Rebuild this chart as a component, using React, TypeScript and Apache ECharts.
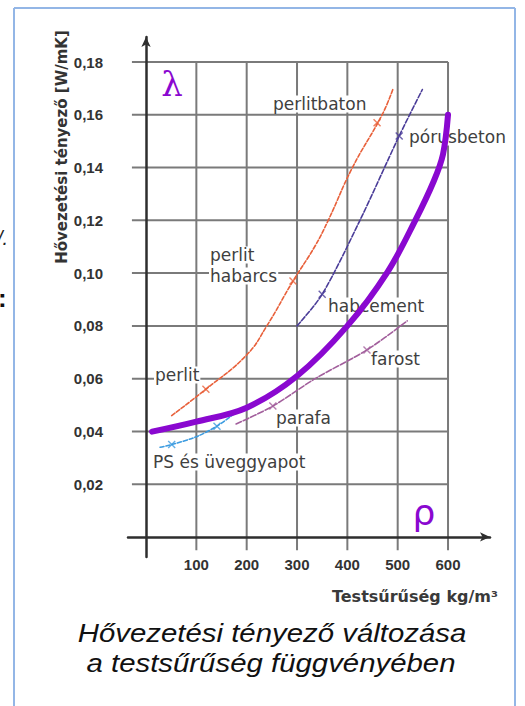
import { useEffect, useRef } from 'react';
import * as echarts from 'echarts';

// Tick values
const X_TICKS = [100, 200, 300, 400, 500, 600];
const Y_TICKS = [0.02, 0.04, 0.06, 0.08, 0.1, 0.12, 0.14, 0.16, 0.18];

// Curves: [density kg/m3, lambda W/mK]
const mainCurve = [
  [12, 0.0399], [100, 0.0437], [200, 0.049], [300, 0.061],
  [400, 0.08], [480, 0.1005], [535, 0.12], [572, 0.135], [590, 0.145], [600, 0.16],
];
const perlitCurve = [
  [51, 0.046], [119, 0.056], [200, 0.069], [240, 0.08], [292, 0.097],
  [335, 0.11], [362, 0.12], [410, 0.14], [469, 0.16], [491, 0.170],
];
const porusCurve = [
  [300, 0.08], [350, 0.092], [425, 0.12], [503, 0.152], [549, 0.1696],
];
const farostCurve = [
  [179, 0.0428], [252, 0.0496], [336, 0.06], [439, 0.0709], [519, 0.0819],
];
const psCurve = [
  [28, 0.034], [51, 0.035], [100, 0.038], [141, 0.042], [173, 0.0464],
];

// Tick-mark crosses on curves
const perlitMarks = [[119, 0.056], [292, 0.097], [459, 0.157]];
const porusMarks = [[350, 0.092], [503, 0.152]];
const farostMarks = [[252, 0.0496], [439, 0.0709]];
const psMarks = [[51, 0.035], [141, 0.042]];

// Axis extents
const X_MIN = -35.8;
const X_MAX = 683.4;
const Y_MIN = -0.0076;
const Y_MAX = 0.1895;
const GRID_X_LEFT = -28;
const GRID_Y_BOTTOM = -0.005;

const C_MAIN = '#8a08d0';
const C_PERLIT = '#e8603a';
const C_PORUS = '#4a3c98';
const C_FAROST = '#a25f9c';
const C_PS = '#3b9be0';
const C_GRID = '#7a7a7a';
const C_FRAME = '#93b6e6';

const CROSS = 'path://M0,0L10,10M10,0L0,10';

function markSeries(data: number[][], color: string) {
  return {
    type: 'scatter',
    data,
    symbol: CROSS,
    symbolSize: 7,
    z: 8,
    silent: true,
    itemStyle: { color: 'none', borderColor: color, borderWidth: 1.4 },
  };
}

function curveSeries(data: number[][], color: string, width: number, dash: any, smooth = 0.3) {
  return {
    type: 'line',
    data,
    smooth,
    symbol: 'none',
    silent: true,
    z: 7,
    lineStyle: { color, width, type: dash, cap: 'round', join: 'round' },
  };
}

const segLine = (x1: number, y1: number, x2: number, y2: number, color: string, z: number) => ({
  type: 'line',
  z,
  silent: true,
  shape: { x1, y1, x2, y2 },
  style: { stroke: color, lineWidth: 2 },
});

export default function App() {
  const ref = useRef<HTMLDivElement>(null);
  useEffect(() => {
    if (!ref.current) return;
    const chart = echarts.init(ref.current, null, { renderer: 'svg' });

    const labels: [string, number, number][] = [
      ['perlitbaton', 272, 104],
      ['pórusbeton', 408, 137],
      ['perlit', 209, 255],
      ['habarcs', 209, 276],
      ['habcement', 327, 306],
      ['farost', 370, 359],
      ['perlit', 154, 375],
      ['parafa', 275, 418],
      ['PS és üveggyapot', 152, 462],
    ];

    chart.setOption({
      animation: false,
      grid: { left: 128, top: 37, width: 362, height: 520, containLabel: false },
      xAxis: {
        type: 'value',
        min: X_MIN,
        max: X_MAX,
        z: 6,
        axisLine: {
          onZero: true,
          lineStyle: { color: '#2e2e2e', width: 2.5 },
          symbol: ['none', 'arrow'],
          symbolSize: [7, 10],
        },
        axisTick: { show: false },
        splitLine: { show: false },
        axisLabel: {
          customValues: X_TICKS,
          margin: 0,
          color: '#333',
          fontSize: 15,
          fontWeight: 'bold',
          fontFamily: 'Liberation Sans',
          formatter: (v: number) => String(Math.round(v)),
        },
      },
      yAxis: {
        type: 'value',
        min: Y_MIN,
        max: Y_MAX,
        z: 6,
        axisLine: {
          onZero: true,
          lineStyle: { color: '#2e2e2e', width: 2.5 },
          symbol: ['none', 'arrow'],
          symbolSize: [7, 10],
        },
        axisTick: { show: false },
        splitLine: { show: false },
        axisLabel: {
          customValues: Y_TICKS,
          margin: 25,
          color: '#333',
          fontSize: 15,
          fontWeight: 'bold',
          fontFamily: 'Liberation Sans',
          formatter: (v: number) => v.toFixed(2).replace('.', ','),
        },
      },
      series: [
        curveSeries(psCurve, C_PS, 1.6, [4, 2]),
        curveSeries(farostCurve, C_FAROST, 1.6, [6, 2]),
        curveSeries(perlitCurve, C_PERLIT, 1.6, [4, 2], 0.45),
        curveSeries(porusCurve, C_PORUS, 1.6, [5, 2]),
        curveSeries(mainCurve, C_MAIN, 6, 'solid', 0.35),
        markSeries(perlitMarks, C_PERLIT),
        markSeries(porusMarks, C_PORUS),
        markSeries(farostMarks, C_FAROST),
        markSeries(psMarks, C_PS),
      ],
    });

    // Grid lines, placed through the chart's own scales
    const toPx = (p: number[]) => chart.convertToPixel({ gridIndex: 0 }, p) as number[];
    const yTop = Y_TICKS[Y_TICKS.length - 1];
    const xRight = X_TICKS[X_TICKS.length - 1];
    const gridEls: any[] = [];
    X_TICKS.forEach((v) => {
      const a = toPx([v, GRID_Y_BOTTOM]);
      const b = toPx([v, yTop]);
      if (a && b) gridEls.push(segLine(a[0], a[1], b[0], b[1], C_GRID, 1));
    });
    Y_TICKS.forEach((v) => {
      const a = toPx([GRID_X_LEFT, v]);
      const b = toPx([xRight, v]);
      if (a && b) gridEls.push(segLine(a[0], a[1], b[0], b[1], C_GRID, 1));
    });

    chart.setOption({
      graphic: [
        segLine(14, 8, 14, 706, C_FRAME, 0),
        segLine(14, 8, 515, 8, C_FRAME, 0),
        segLine(515, 8, 515, 706, C_FRAME, 0),
        ...gridEls,
        { type: 'text', x: -3, y: 238, style: { text: '/.', font: 'italic 20px "Liberation Sans"', fill: '#222', verticalAlign: 'middle' } },
        { type: 'text', x: -2, y: 298, style: { text: ':', font: 'bold 26px "Liberation Sans"', fill: '#111', verticalAlign: 'middle' } },
        {
          type: 'text',
          x: 62,
          y: 147,
          rotation: Math.PI / 2,
          style: {
            text: 'Hővezetési tényező [W/mK]',
            font: 'bold 15px "DejaVu Sans"',
            fill: '#333',
            align: 'center',
            verticalAlign: 'middle',
          },
        },
        {
          type: 'text',
          x: 498,
          y: 596,
          style: {
            text: 'Testsűrűség kg/m³',
            font: 'bold 16px "DejaVu Sans"',
            fill: '#3a3a3a',
            align: 'right',
            verticalAlign: 'middle',
          },
        },
        ...labels.map(([t, x, y]) => ({
          type: 'text',
          x,
          y,
          z: 5,
          style: {
            text: t,
            fill: '#404040',
            font: '17px "DejaVu Sans"',
            backgroundColor: '#ffffff',
            padding: [0, 1],
            verticalAlign: 'middle',
            align: 'left',
          },
        })),
        {
          type: 'text', x: 172, y: 84,
          style: { text: 'λ', font: '34px "DejaVu Serif"', fill: C_MAIN, align: 'center', verticalAlign: 'middle' },
        },
        {
          type: 'text', x: 424, y: 512,
          style: { text: 'ρ', font: '36px "DejaVu Sans"', fill: C_MAIN, align: 'center', verticalAlign: 'middle' },
        },
        {
          type: 'text', x: 272, y: 633, scaleX: 1.13,
          style: { text: 'Hővezetési tényező változása', font: 'italic 26px "Liberation Sans"', fill: '#111', align: 'center', verticalAlign: 'middle' },
        },
        {
          type: 'text', x: 271, y: 663, scaleX: 1.13,
          style: { text: 'a testsűrűség függvényében', font: 'italic 26px "Liberation Sans"', fill: '#111', align: 'center', verticalAlign: 'middle' },
        },
      ],
    });
    return () => chart.dispose();
  }, []);
  return <div ref={ref} style={{ position: 'absolute', left: 0, top: 0, width: 525, height: 706 }} />;
}
